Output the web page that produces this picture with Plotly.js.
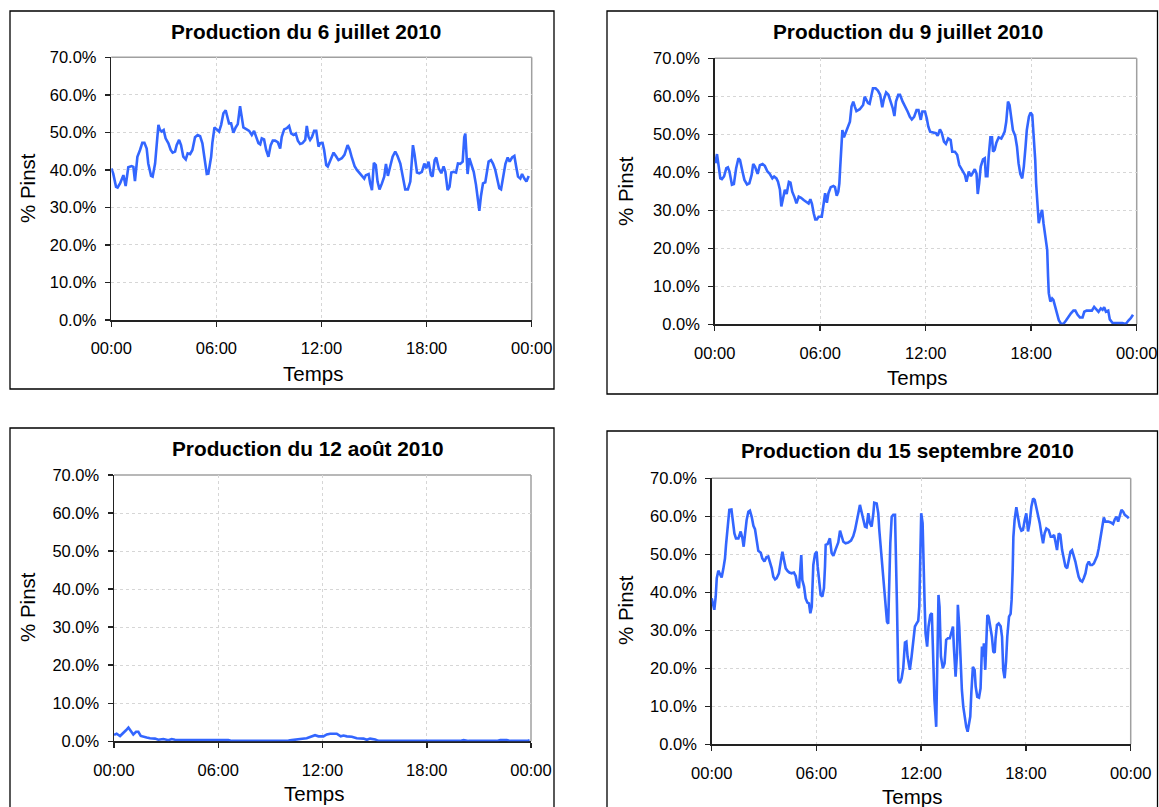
<!DOCTYPE html>
<html>
<head>
<meta charset="utf-8">
<script src="https://cdn.plot.ly/plotly-3.0.1.min.js"></script>
<style>
  html, body { margin: 0; padding: 0; background: #ffffff; }
  #chart { width: 1159px; height: 807px; }
</style>
</head>
<body>
<div id="chart"></div>
<script>
// ---------- DATA (hours of day, % of installed power) ----------
const tickVals = [0, 6, 12, 18, 24];
const tickLabels = ["00:00", "06:00", "12:00", "18:00", "00:00"];
const titles = ["Production du 6 juillet 2010", "Production du 9 juillet 2010",
                "Production du 12 août 2010", "Production du 15 septembre 2010"];
const xTitle = "Temps";
const yTitle = "% Pinst";

// 6 juillet 2010
const hours_0706 = [
  0.00,0.11,0.27,0.36,0.50,0.69,0.82,0.97,1.16,1.26,
  1.35,1.49,1.64,1.77,1.89,2.02,2.11,2.27,2.36,2.50,
  2.59,2.69,2.78,2.88,2.99,3.10,3.26,3.39,3.50,3.64,
  3.73,3.87,3.98,4.11,4.25,4.36,4.50,4.63,4.78,4.93,
  5.07,5.20,5.31,5.45,5.54,5.70,5.77,5.89,6.02,6.15,
  6.27,6.40,6.53,6.63,6.72,6.84,6.97,7.10,7.22,7.35,
  7.45,7.54,7.73,7.87,8.02,8.15,8.27,8.40,8.50,8.59,
  8.72,8.84,8.97,9.10,9.22,9.35,9.50,9.64,9.73,9.87,
  10.02,10.15,10.27,10.40,10.53,10.65,10.78,10.91,11.07,11.16,
  11.26,11.35,11.45,11.58,11.70,11.83,11.92,12.06,12.15,12.27,
  12.36,12.50,12.69,12.82,12.97,13.16,13.31,13.49,13.60,13.73,
  13.89,14.02,14.21,14.34,14.44,14.53,14.69,14.78,14.88,14.99,
  15.10,15.20,15.31,15.45,15.58,15.68,15.79,15.92,16.06,16.21,
  16.34,16.50,16.63,16.78,16.93,17.07,17.16,17.22,17.31,17.45,
  17.58,17.73,17.87,17.98,18.11,18.25,18.34,18.46,18.55,18.69,
  18.84,18.97,19.07,19.20,19.31,19.41,19.54,19.68,19.79,19.92,
  20.06,20.15,20.21,20.27,20.34,20.44,20.55,20.69,20.82,20.91,
  21.01,21.10,21.22,21.35,21.45,21.54,21.68,21.79,21.92,22.02,
  22.15,22.25,22.36,22.50,22.63,22.74,22.88,23.01,23.12,23.22,
  23.35,23.45,23.58,23.70,23.83
];
const pct_0706 = [
  40.4,39.0,35.5,35.3,36.4,38.6,35.7,40.7,41.0,40.8,
  37.0,43.5,45.3,47.2,47.2,45.7,41.7,38.4,38.2,41.7,
  46.6,52.0,50.6,50.2,50.6,48.4,47.1,45.3,44.6,44.9,
  46.6,48.0,46.6,43.5,42.8,44.4,44.2,45.3,48.7,49.3,
  49.0,47.1,43.5,38.9,39.0,43.5,47.2,51.3,50.8,50.2,
  52.0,55.1,55.9,54.2,52.4,52.4,49.9,51.3,52.2,57.0,
  54.2,51.3,50.8,50.4,49.3,50.4,48.8,47.1,46.8,48.4,
  48.1,45.3,43.5,46.6,47.8,47.8,47.4,45.7,48.8,50.8,
  51.1,51.7,49.7,49.3,49.7,47.8,46.9,47.1,48.0,51.7,
  48.8,48.0,48.7,50.4,50.4,46.2,47.1,47.2,45.3,41.3,
  40.9,42.6,44.6,43.7,42.6,43.1,44.0,46.6,45.5,43.3,
  41.0,40.0,38.9,38.4,37.7,38.6,38.9,36.4,34.6,41.9,
  41.3,36.9,34.8,36.4,38.2,41.6,38.4,40.9,43.5,44.9,
  43.7,41.7,38.2,34.8,34.8,36.9,42.6,46.6,44.2,39.3,
  39.1,39.5,41.7,40.4,42.2,38.6,38.2,42.6,43.3,40.4,
  39.1,40.9,39.5,34.6,35.5,39.3,39.5,39.3,41.7,41.6,
  42.2,48.7,49.7,44.4,38.9,43.1,41.3,39.5,36.0,32.0,
  29.1,32.9,36.4,36.7,39.5,42.2,42.6,41.7,40.0,38.2,
  35.1,34.8,38.4,41.6,43.3,42.2,43.3,43.7,40.7,38.2,
  37.7,38.9,37.7,36.9,38.4
];

// 9 juillet 2010
const hours_0709 = [
  0.04,0.13,0.23,0.32,0.41,0.53,0.66,0.75,0.84,0.98,
  1.09,1.22,1.35,1.44,1.56,1.69,1.84,1.97,2.10,2.19,
  2.29,2.44,2.57,2.72,2.85,3.00,3.13,3.28,3.38,3.51,
  3.60,3.71,3.79,3.90,3.99,4.09,4.22,4.31,4.41,4.54,
  4.65,4.78,4.91,5.06,5.21,5.34,5.44,5.53,5.63,5.72,
  5.81,5.91,6.09,6.19,6.28,6.38,6.47,6.60,6.75,6.84,
  6.94,7.03,7.09,7.14,7.20,7.26,7.35,7.46,7.59,7.69,
  7.78,7.88,7.97,8.06,8.25,8.44,8.53,8.63,8.72,8.81,
  8.91,9.00,9.15,9.28,9.41,9.53,9.62,9.75,9.88,9.99,
  10.13,10.22,10.31,10.44,10.54,10.69,10.84,10.97,11.10,11.21,
  11.34,11.48,11.59,11.72,11.81,11.96,12.06,12.15,12.25,12.43,
  12.58,12.68,12.81,12.91,13.04,13.15,13.28,13.42,13.51,13.66,
  13.79,13.91,14.04,14.13,14.23,14.32,14.45,14.57,14.70,14.79,
  14.89,14.96,15.04,15.13,15.26,15.36,15.42,15.51,15.58,15.68,
  15.77,15.83,15.92,16.02,16.15,16.30,16.40,16.49,16.58,16.68,
  16.77,16.87,16.96,17.09,17.19,17.28,17.38,17.49,17.58,17.68,
  17.75,17.87,17.96,18.06,18.15,18.23,18.28,18.34,18.43,18.53,
  18.62,18.70,18.81,18.91,18.96,19.00,19.09,19.19,19.26,19.36,
  19.45,19.57,19.70,19.83,19.98,20.11,20.26,20.40,20.51,20.64,
  20.77,20.92,21.02,21.15,21.30,21.45,21.58,21.72,21.83,21.96,
  22.06,22.15,22.25,22.38,22.47,22.62,22.81,23.00,23.19,23.38,
  23.53,23.66,23.79
];
const pct_0709 = [
  42.4,44.8,41.5,38.4,38.2,38.9,41.1,41.3,40.2,36.7,
  36.9,41.1,43.7,43.2,40.6,38.0,36.8,37.1,39.3,42.2,
  41.5,39.6,41.9,42.2,41.7,40.2,39.6,38.4,38.9,38.4,
  37.5,35.4,31.0,33.6,35.4,34.3,37.5,37.3,34.9,33.4,
  31.8,33.6,33.3,32.7,32.3,31.8,32.9,31.7,29.2,27.6,
  27.6,28.3,28.3,31.4,34.5,32.0,34.5,36.1,36.4,36.1,
  33.8,34.9,37.1,41.5,45.9,51.1,49.2,50.7,52.5,53.3,
  57.3,58.6,57.3,56.1,56.6,57.7,59.9,59.0,58.2,58.0,
  59.9,62.1,62.1,61.5,60.4,57.1,59.2,61.0,60.4,59.0,
  56.8,54.8,58.6,60.4,60.4,58.6,57.3,56.0,54.6,53.9,
  54.6,56.4,56.4,53.8,56.0,56.0,54.2,52.0,50.7,50.4,
  50.3,49.6,51.3,50.4,48.1,47.5,48.9,48.5,45.4,45.4,
  44.6,41.9,40.8,39.9,39.3,37.5,40.2,39.0,40.2,40.8,
  39.7,34.3,37.1,41.5,43.4,43.7,39.0,39.0,44.1,49.2,
  49.2,45.4,45.9,47.8,49.2,48.9,49.8,50.7,53.3,58.6,
  57.7,53.8,51.1,49.6,46.8,42.4,39.6,38.4,41.5,46.8,
  51.1,54.6,55.7,55.1,49.8,43.2,37.1,31.8,26.6,28.8,
  30.1,26.6,22.6,19.6,12.5,8.2,6.0,6.8,6.4,4.8,
  2.9,1.1,0.1,0.1,1.0,2.0,2.9,3.6,3.6,2.5,
  1.8,1.8,3.3,3.6,3.6,3.6,4.6,3.8,3.3,4.2,
  3.8,4.5,3.3,3.6,1.3,0.4,0.3,0.3,0.3,0.1,
  1.0,1.6,2.5
];

// 12 août 2010
const hours_0812 = [
  0.00,0.15,0.35,0.54,0.69,0.83,0.96,1.11,1.27,1.40,
  1.54,1.69,1.88,2.07,2.36,2.55,2.84,3.13,3.32,3.51,
  3.99,4.76,5.53,6.30,6.58,6.78,7.45,8.41,9.37,10.04,
  10.23,10.52,10.71,11.09,11.38,11.57,11.77,12.05,12.25,12.44,
  12.82,13.05,13.21,13.40,13.69,13.97,14.36,14.55,14.74,15.03,
  15.22,16.08,18.00,19.92,20.12,20.40,22.03,22.23,22.61,22.80,
  23.76,23.92
];
const pct_0812 = [
  1.7,2.0,1.4,2.1,2.9,3.6,2.9,1.8,2.5,2.5,
  1.4,1.3,1.0,0.8,0.7,0.4,0.6,0.3,0.6,0.4,
  0.4,0.4,0.4,0.4,0.3,0.1,0.1,0.1,0.1,0.2,
  0.3,0.4,0.6,0.8,1.3,1.6,1.3,1.3,1.8,2.0,
  2.0,1.3,1.5,1.3,1.2,0.8,0.7,0.4,0.7,0.5,
  0.1,0.1,0.1,0.1,0.3,0.1,0.1,0.3,0.3,0.1,
  0.1,0.3
];

// 15 septembre 2010
const hours_0915 = [
  0.00,0.10,0.15,0.23,0.29,0.38,0.48,0.57,0.67,0.76,
  0.82,0.90,0.95,1.01,1.13,1.20,1.30,1.39,1.53,1.66,
  1.76,1.83,1.91,2.00,2.10,2.19,2.29,2.39,2.48,2.58,
  2.67,2.81,2.90,3.02,3.13,3.24,3.34,3.44,3.53,3.63,
  3.72,3.85,3.97,4.05,4.14,4.24,4.35,4.45,4.58,4.71,
  4.81,4.90,5.00,5.08,5.13,5.19,5.29,5.38,5.48,5.57,
  5.65,5.73,5.82,5.92,6.01,6.07,6.15,6.24,6.34,6.43,
  6.49,6.53,6.64,6.77,6.87,6.97,7.10,7.25,7.35,7.44,
  7.54,7.67,7.82,7.98,8.11,8.21,8.30,8.40,8.49,8.59,
  8.68,8.78,8.87,8.97,9.06,9.16,9.26,9.31,9.45,9.54,
  9.60,9.69,9.79,9.89,9.98,10.04,10.11,10.17,10.23,10.31,
  10.40,10.50,10.55,10.61,10.69,10.78,10.88,10.97,11.07,11.15,
  11.22,11.30,11.35,11.45,11.55,11.64,11.74,11.83,11.89,11.95,
  12.00,12.08,12.13,12.19,12.25,12.34,12.42,12.52,12.61,12.67,
  12.76,12.86,12.92,12.99,13.05,13.13,13.24,13.34,13.43,13.53,
  13.64,13.72,13.82,13.87,13.97,14.05,14.10,14.18,14.26,14.33,
  14.41,14.49,14.58,14.66,14.73,14.81,14.87,14.96,15.06,15.12,
  15.21,15.31,15.40,15.48,15.54,15.59,15.67,15.73,15.79,15.86,
  15.96,16.05,16.13,16.21,16.26,16.34,16.44,16.55,16.63,16.70,
  16.78,16.86,16.93,17.03,17.12,17.18,17.24,17.28,17.35,17.45,
  17.54,17.64,17.74,17.83,17.93,18.02,18.12,18.21,18.31,18.41,
  18.50,18.60,18.69,18.79,18.88,18.98,19.07,19.17,19.30,19.42,
  19.51,19.61,19.69,19.78,19.88,19.97,20.07,20.16,20.26,20.36,
  20.45,20.55,20.64,20.74,20.83,20.93,21.02,21.12,21.22,21.31,
  21.41,21.50,21.60,21.69,21.79,21.89,21.98,22.08,22.17,22.27,
  22.36,22.46,22.55,22.71,22.86,22.99,23.09,23.19,23.28,23.38,
  23.47,23.57,23.66,23.80,23.89
];
const pct_0915 = [
  38.4,36.7,35.4,38.9,43.7,45.7,44.8,43.9,46.3,48.9,
  52.5,56.0,59.0,61.7,61.8,59.0,55.5,54.2,54.2,56.0,
  54.2,52.0,56.4,59.0,61.2,61.5,59.9,57.5,56.6,53.3,
  50.9,50.4,48.9,48.1,49.2,49.4,48.1,46.3,44.1,43.4,
  43.7,45.0,48.5,50.7,48.5,46.3,45.6,45.2,45.0,45.2,
  44.3,41.9,41.1,46.8,49.8,43.2,41.5,38.4,37.3,37.1,
  34.5,36.2,47.2,50.1,50.7,46.8,42.4,39.3,38.9,41.1,
  46.8,52.5,52.7,54.2,50.3,49.6,51.3,53.1,56.2,54.6,
  53.3,52.9,53.1,53.6,54.8,56.4,58.2,60.8,63.0,60.8,
  58.6,57.3,57.1,60.8,58.2,57.3,60.8,63.6,63.4,60.8,
  56.4,51.1,45.9,38.9,35.4,32.3,31.7,43.2,52.9,59.9,
  60.4,60.4,52.0,37.1,16.9,16.1,17.4,20.0,26.8,27.0,
  23.1,20.0,19.6,23.1,27.5,31.0,31.8,32.5,36.2,50.3,
  60.8,58.2,43.2,38.0,29.2,25.7,31.0,34.0,34.5,23.1,
  11.7,4.6,19.6,39.3,36.2,23.1,20.0,21.3,27.5,27.9,
  27.9,29.2,31.0,25.7,17.8,23.9,36.7,31.0,19.6,14.3,
  9.9,7.3,4.6,3.3,5.5,7.3,13.4,20.4,19.6,15.2,
  12.5,12.3,14.7,25.7,23.1,26.6,19.6,28.3,34.0,33.6,
  31.0,28.3,24.4,24.1,27.9,31.4,31.8,31.1,28.3,19.6,
  17.4,21.8,28.3,33.6,34.3,38.0,45.9,54.6,59.0,62.4,
  59.9,57.3,56.2,56.4,59.0,60.8,56.0,58.2,62.5,64.7,
  64.3,62.1,60.8,58.2,55.5,52.9,55.5,56.8,56.4,54.6,
  54.6,55.1,53.3,51.1,55.5,55.1,51.1,48.5,46.8,46.3,
  48.9,50.7,51.1,49.6,48.1,45.9,44.1,43.1,42.8,43.7,
  45.0,47.2,48.1,47.2,47.2,47.6,48.5,49.6,51.6,54.6,
  57.7,59.7,58.6,58.6,58.4,58.0,59.2,59.9,58.6,60.4,
  61.7,61.2,60.4,59.9,59.5
];

const seriesX = [hours_0706, hours_0709, hours_0812, hours_0915];
const seriesY = [pct_0706, pct_0709, pct_0812, pct_0915];

// ---------- LAYOUT (pixel geometry of the four panels) ----------
const W = 1159, H = 807;
const px = x => x / W;
const py = y => 1 - y / H;

// plot areas [left, right, top, bottom] in px
const plotBoxes = [
  [111.3, 531.7, 57.3, 320.0],
  [714.7, 1136.7, 58.3, 324.3],
  [114.0, 531.0, 475.0, 741.3],
  [711.7, 1130.7, 478.3, 744.3]
];
// outer chart frames [left, right, top, bottom]
const frames = [
  [10, 554, 11, 389],
  [607, 1157.5, 11, 394],
  [10, 554, 428, 812],
  [607, 1157.5, 431, 812]
];
// text positions
const titlePos = [[306, 31], [908, 31], [308, 448], [907, 451]];
const xTitlePos = [[313, 373], [917, 377], [314, 793], [912, 796]];
const yTitlePos = [[28, 188], [625, 191], [27, 607], [625, 610]];

const FONT = "Liberation Sans, Arial, Helvetica, sans-serif";
const blue = "#3366FF";

const traces = [];
const layout = {
  width: W, height: H,
  margin: {l: 0, r: 0, t: 0, b: 0},
  paper_bgcolor: "#ffffff",
  plot_bgcolor: "#ffffff",
  showlegend: false,
  font: {family: FONT, color: "#000"},
  shapes: [],
  annotations: []
};

for (let i = 0; i < 4; i++) {
  const sfx = i === 0 ? "" : String(i + 1);
  const [l, r, t, b] = plotBoxes[i];
  traces.push({
    type: "scatter", mode: "lines",
    x: seriesX[i], y: seriesY[i],
    xaxis: "x" + sfx, yaxis: "y" + sfx,
    line: {color: blue, width: 2.6},
    hoverinfo: "skip"
  });
  layout["xaxis" + sfx] = {
    domain: [px(l), px(r)],
    anchor: "y" + sfx,
    range: [0, 24],
    tickvals: tickVals, ticktext: tickLabels,
    showgrid: true, gridcolor: "#d6d6d6", griddash: "dot", gridwidth: 1,
    zeroline: false,
    showline: true, linecolor: "#222", linewidth: 1.5,
    ticks: "outside", ticklen: 5, tickwidth: 1.5, tickcolor: "#222",
    tickfont: {family: FONT, size: 16.5, color: "#000"},
    ticklabelstandoff: 8,
    layer: "below traces",
    fixedrange: true
  };
  layout["yaxis" + sfx] = {
    domain: [py(b), py(t)],
    anchor: "x" + sfx,
    range: [0, 70],
    dtick: 10, tick0: 0,
    tickformat: ".1f", ticksuffix: "%",
    showgrid: true, gridcolor: "#d6d6d6", griddash: "dot", gridwidth: 1,
    zeroline: false,
    showline: true, linecolor: "#222", linewidth: 1.5,
    ticks: "outside", ticklen: 5, tickwidth: 1.5, tickcolor: "#222",
    tickfont: {family: FONT, size: 16.5, color: "#000"},
    ticklabelstandoff: 5,
    layer: "below traces",
    fixedrange: true
  };
  // gray top and right plot-area border
  layout.shapes.push({type: "line", xref: "x" + sfx + " domain", yref: "y" + sfx + " domain",
    x0: 0, x1: 1, y0: 1, y1: 1, line: {color: "#a0a0a0", width: 1.5}, layer: "below"});
  layout.shapes.push({type: "line", xref: "x" + sfx + " domain", yref: "y" + sfx + " domain",
    x0: 1, x1: 1, y0: 0, y1: 1, line: {color: "#a0a0a0", width: 1.5}, layer: "below"});
  // outer chart frame
  const [fl, fr, ft, fb] = frames[i];
  layout.shapes.push({type: "rect", xref: "paper", yref: "paper",
    x0: px(fl), x1: px(fr), y0: py(fb), y1: py(ft),
    line: {color: "#000", width: 1.3}, fillcolor: "rgba(0,0,0,0)", layer: "above"});
  // titles
  layout.annotations.push({xref: "paper", yref: "paper", x: px(titlePos[i][0]), y: py(titlePos[i][1]),
    xanchor: "center", yanchor: "middle", showarrow: false,
    text: "<b>" + titles[i] + "</b>", font: {family: FONT, size: 20.8, color: "#000"}});
  layout.annotations.push({xref: "paper", yref: "paper", x: px(xTitlePos[i][0]), y: py(xTitlePos[i][1]),
    xanchor: "center", yanchor: "middle", showarrow: false,
    text: xTitle, font: {family: FONT, size: 20.5, color: "#000"}});
  layout.annotations.push({xref: "paper", yref: "paper", x: px(yTitlePos[i][0]), y: py(yTitlePos[i][1]),
    xanchor: "center", yanchor: "middle", showarrow: false, textangle: -90,
    text: yTitle, font: {family: FONT, size: 20.5, color: "#000"}});
}

Plotly.newPlot("chart", traces, layout, {displayModeBar: false, staticPlot: true});
</script>
</body>
</html>
